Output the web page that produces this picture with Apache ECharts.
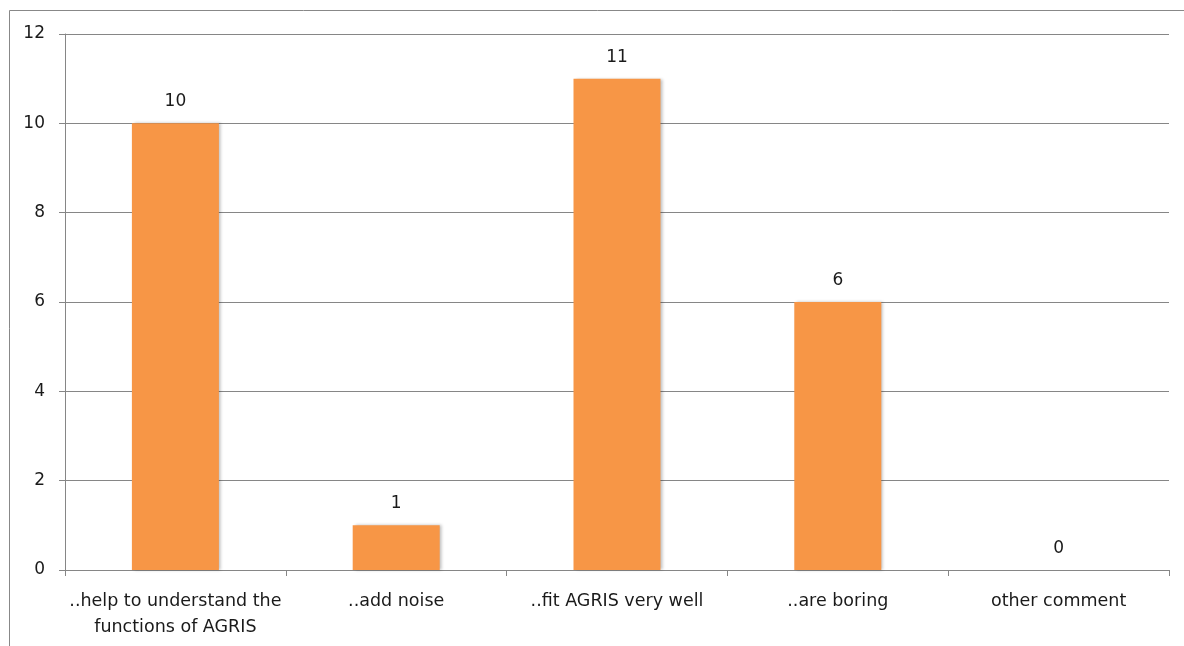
<!DOCTYPE html>
<html>
<head>
<meta charset="utf-8">
<style>
html,body{margin:0;padding:0;background:#fff;}
#c{width:1184px;height:646px;}
</style>
<script src="https://cdn.jsdelivr.net/npm/echarts@6/dist/echarts.min.js"></script>
</head>
<body>
<div id="c"></div>
<script>
const categories = ["..help to understand the\nfunctions of AGRIS", "..add noise", "..fit AGRIS very well", "..are boring", "other comment"];
const values = [10, 1, 11, 6, 0];
const yTicks = { min: 0, max: 12, interval: 2 };

const chart = echarts.init(document.getElementById('c'), null, { renderer: 'canvas' });
const font = "'DejaVu Sans', 'Open Sans', sans-serif";
chart.setOption({
  animation: false,
  backgroundColor: '#ffffff',
  graphic: [{
    type: 'rect',
    shape: { x: 9.5, y: 10.5, width: 1300, height: 800 },
    style: { fill: 'none', stroke: '#888888', lineWidth: 1 },
    z: -1
  }],
  grid: { left: 65, right: 15, top: 34, bottom: 76, containLabel: false },
  xAxis: {
    type: 'category',
    data: categories,
    axisLine: { show: true, lineStyle: { color: '#868686', width: 1 } },
    axisTick: { show: true, length: 6, lineStyle: { color: '#868686' }, alignWithLabel: false },
    axisLabel: { color: '#1a1a1a', fontFamily: font, fontSize: 17.5, margin: 18, lineHeight: 26, interval: 0 },
    splitLine: { show: false }
  },
  yAxis: {
    type: 'value',
    min: yTicks.min, max: yTicks.max, interval: yTicks.interval,
    axisLine: { show: true, lineStyle: { color: '#868686', width: 1 } },
    axisTick: { show: true, length: 6, lineStyle: { color: '#868686' } },
    axisLabel: { color: '#1a1a1a', fontFamily: font, fontSize: 17, margin: 20 },
    splitLine: { show: true, lineStyle: { color: '#868686', width: 1 } }
  },
  series: [{
    type: 'bar',
    data: values,
    barWidth: 87,
    itemStyle: {
      color: '#F79646',
      shadowColor: 'rgba(0,0,0,0.25)',
      shadowBlur: 3,
      shadowOffsetX: 2,
      shadowOffsetY: 0
    },
    label: {
      show: true,
      position: 'top',
      distance: 13,
      color: '#1a1a1a',
      fontFamily: font,
      fontSize: 17
    }
  }]
});
</script>
</body>
</html>
